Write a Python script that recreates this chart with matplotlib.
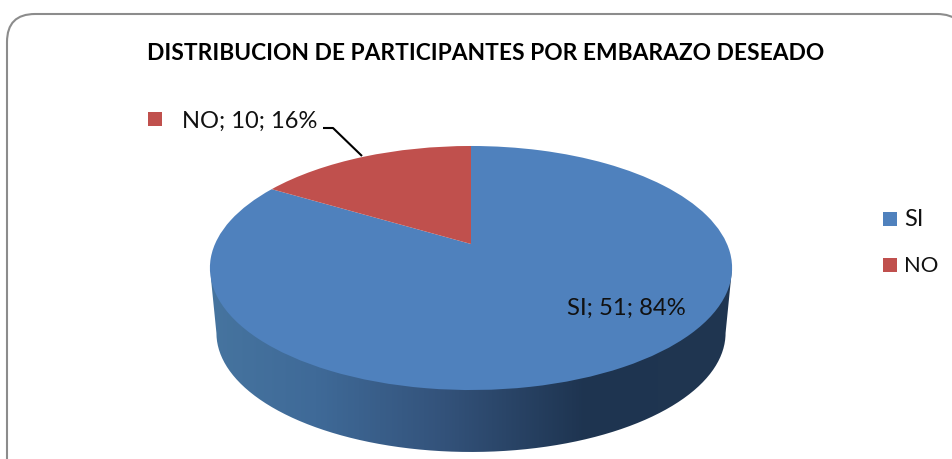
import numpy as np
import matplotlib
matplotlib.use("Agg")
import matplotlib.pyplot as plt
from matplotlib.colors import LinearSegmentedColormap
from matplotlib.patches import FancyBboxPatch, PathPatch
from matplotlib.path import Path
from matplotlib.transforms import Transform

plt.rcParams['font.family'] = ['Lato', 'DejaVu Sans']

TITLE = "DISTRIBUCION DE PARTICIPANTES POR EMBARAZO DESEADO"
categories = ["SI", "NO"]
values = [51, 10]
percents = [84, 16]
colors = ["#4F81BD", "#C0504D"]

# perspective view of the disc
APEX_X, APEX_Y = 471.0, 244.0
SX, SY, K = 256.0, 117.3, 0.1967
BASE_SCALE, BASE_APEX_Y = 0.975, 309.6


class Disc(Transform):
    input_dims = output_dims = 2
    is_separable = False
    has_inverse = False

    def __init__(self, scale=1.0, apex_y=APEX_Y):
        super().__init__()
        self.scale, self.apex_y = scale, apex_y

    def transform_non_affine(self, pts):
        pts = np.asarray(pts, float)
        d = 1 + K * pts[:, 1]
        return np.column_stack([APEX_X + self.scale * SX * pts[:, 0] / d,
                                self.apex_y - self.scale * SY * pts[:, 1] / d])


fig = plt.figure(figsize=(9.53, 4.59), dpi=100)
ax = fig.add_axes([0, 0, 1, 1])

# chart frame
ax.add_patch(FancyBboxPatch((7 + 28, 14 + 28), 965 - 7 - 56, 520 - 14 - 56,
                            boxstyle="round,pad=28,rounding_size=28",
                            fc="white", ec="#8C8C8C", lw=1.5, zorder=0))

# top of the pie
wedges, _ = ax.pie(values, colors=colors, startangle=90, counterclock=False,
                   radius=1, wedgeprops=dict(lw=0))
top = Disc()
for w in wedges:
    w.set_transform(top + ax.transData)
    w.set_zorder(3)

# side wall with horizontal shading
a_left = np.pi + np.arcsin(K)
a_right = 2 * np.pi - np.arcsin(K)
th = np.linspace(a_left, a_right, 240)
circ = np.column_stack([np.cos(th), np.sin(th)])
rim = Disc(BASE_SCALE, BASE_APEX_Y).transform_non_affine(circ)
ends = top.transform_non_affine(circ[[-1, 0]])
verts = np.vstack([rim, ends, rim[:1]])
clip = PathPatch(Path(verts), transform=ax.transData, fc="none", ec="none")
ax.add_patch(clip)
cmap = LinearSegmentedColormap.from_list("side", [
    (0.00, "#46749F"), (0.20, "#3F6A98"), (0.45, "#33527A"),
    (0.72, "#1E3450"), (1.00, "#203651")])
im = ax.imshow(np.linspace(0, 1, 256)[None, :], cmap=cmap, aspect="auto",
               extent=(211, 732, 460, 260), zorder=2)
im.set_clip_path(clip)

ax.set_xlim(0, 953)
ax.set_ylim(459, 0)
ax.set_aspect("auto")
ax.axis("off")

# title
ax.text(486, 54, TITLE, ha="center", va="center", fontsize=16.4,
        fontweight="bold", color="black")

# data labels
ax.text(567, 308, f"{categories[0]}; {values[0]}; {percents[0]}%", ha="left",
        va="center", fontsize=17.2, color="#111111", zorder=5)
ax.text(182, 121, f"{categories[1]}; {values[1]}; {percents[1]}%", ha="left",
        va="center", fontsize=17, color="#111111", zorder=5)
ax.plot([155.5], [119], marker="s", ms=10.5, color=colors[1], mew=0, zorder=5)
ax.plot([323, 333, 362], [128, 128, 156], color="black", lw=1.5, zorder=4,
        solid_capstyle="butt")

# legend
for y, cat, col, fs in zip([219, 265], categories, colors, [17, 15.8]):
    ax.plot([890.5], [y], marker="s", ms=10, color=col, mew=0, zorder=5)
    ax.text(904, y + 1, cat, ha="left", va="center", fontsize=fs, color="#111111")

fig.savefig("out.png", dpi=100)
